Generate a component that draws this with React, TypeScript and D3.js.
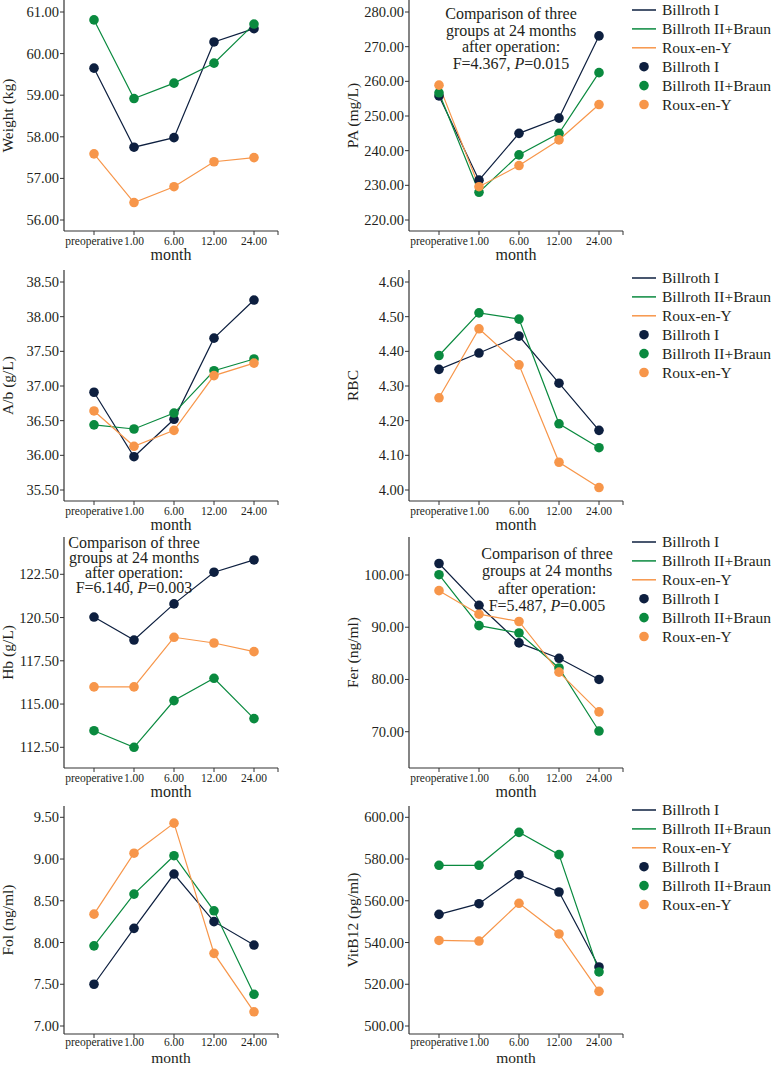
import React from 'react';
import * as d3 from 'd3';

const months = ['preoperative', '1.00', '6.00', '12.00', '24.00'];
const groups = ['Billroth I', 'Billroth II+Braun', 'Roux-en-Y'];
const colors = ['#0d1f3f', '#0a8a3f', '#f7964a'];

const weightBI = [59.65, 57.75, 57.98, 60.28, 60.6];
const weightBII = [60.81, 58.92, 59.29, 59.77, 60.71];
const weightRY = [57.59, 56.42, 56.8, 57.4, 57.5];
const weightTicks = [56, 57, 58, 59, 60, 61];

const paBI = [255.8, 231.5, 245.0, 249.4, 273.1];
const paBII = [256.7, 228.0, 238.8, 245.0, 262.5];
const paRY = [258.9, 229.6, 235.7, 243.1, 253.3];
const paTicks = [220, 230, 240, 250, 260, 270, 280];

const abBI = [36.91, 35.98, 36.52, 37.69, 38.24];
const abBII = [36.44, 36.38, 36.61, 37.22, 37.39];
const abRY = [36.64, 36.13, 36.36, 37.15, 37.33];
const abTicks = [35.5, 36, 36.5, 37, 37.5, 38, 38.5];

const rbcBI = [4.348, 4.395, 4.444, 4.308, 4.172];
const rbcBII = [4.388, 4.511, 4.493, 4.191, 4.122];
const rbcRY = [4.266, 4.465, 4.361, 4.08, 4.007];
const rbcTicks = [4.0, 4.1, 4.2, 4.3, 4.4, 4.5, 4.6];

const hbBI = [120.03, 118.7, 120.79, 122.62, 123.33];
const hbBII = [113.46, 112.5, 115.2, 116.49, 114.16];
const hbRY = [115.99, 115.99, 118.86, 118.53, 118.03];
const hbTicks = [112.5, 115, 117.5, 120, 122.5];
const hbTickLabels = ['112.50', '115.00', '117.50', '120.50', '122.50'];

const ferBI = [102.2, 94.2, 87.0, 84.05, 80.0];
const ferBII = [100.06, 90.3, 88.9, 82.2, 70.13];
const ferRY = [97.0, 92.5, 91.1, 81.4, 73.8];
const ferTicks = [70, 80, 90, 100];

const folBI = [7.5, 8.17, 8.82, 8.25, 7.97];
const folBII = [7.96, 8.58, 9.04, 8.38, 7.38];
const folRY = [8.34, 9.07, 9.43, 7.87, 7.17];
const folTicks = [7.0, 7.5, 8.0, 8.5, 9.0, 9.5];

const vitBI = [553.5, 558.6, 572.5, 564.2, 528.3];
const vitBII = [577.0, 577.0, 592.8, 582.1, 525.9];
const vitRY = [541.0, 540.7, 558.8, 544.1, 516.6];
const vitTicks = [500, 520, 540, 560, 580, 600];

const paNote = ['Comparison of three', 'groups at 24 months', 'after operation:', 'F=4.367, ', '0.015'];
const hbNote = ['Comparison of three', 'groups at 24 months', 'after operation:', 'F=6.140, ', '0.003'];
const ferNote = ['Comparison of three', 'groups at 24 months', 'after operation:', 'F=5.487, ', '0.005'];

const fmt = d3.format('.2f');
const FONT = '"Liberation Serif", "Times New Roman", "DejaVu Serif", serif';
const TEXT = '#231f20';
const AXIS = '#333';

type Panel = {
  title: string;
  series: number[][];
  ticks: number[];
  tickLabels?: string[];
  x0: number; top: number; bottom: number; yLo: number; yHi: number;
  tickDy: number; monthY: number; monthSize: number;
  legend?: number;
  note?: { lines: string[]; cx: number; y: number; dy: number };
};

const panels: Panel[] = [
  { title: 'Weight (kg)', series: [weightBI, weightBII, weightRY], ticks: weightTicks, x0: 64, top: 0, bottom: 231, yLo: 220, yHi: 12, tickDy: 14, monthY: 260, monthSize: 16 },
  { title: 'PA (mg/L)', series: [paBI, paBII, paRY], ticks: paTicks, x0: 409, top: 0, bottom: 231, yLo: 220, yHi: 12, tickDy: 14, monthY: 260, monthSize: 16, legend: 10,
    note: { lines: paNote, cx: 511, y: 19, dy: 16.5 } },
  { title: 'A/b (g/L)', series: [abBI, abBII, abRY], ticks: abTicks, x0: 64, top: 270, bottom: 501, yLo: 490, yHi: 282, tickDy: 14, monthY: 530, monthSize: 16 },
  { title: 'RBC', series: [rbcBI, rbcBII, rbcRY], ticks: rbcTicks, x0: 409, top: 270, bottom: 501, yLo: 490, yHi: 282, tickDy: 14, monthY: 530, monthSize: 16, legend: 278 },
  { title: 'Hb (g/L)', series: [hbBI, hbBII, hbRY], ticks: hbTicks, tickLabels: hbTickLabels, x0: 64, top: 537, bottom: 768, yLo: 747.3, yHi: 574.3, tickDy: 14, monthY: 797, monthSize: 16,
    note: { lines: hbNote, cx: 134, y: 548, dy: 15 } },
  { title: 'Fer (ng/ml)', series: [ferBI, ferBII, ferRY], ticks: ferTicks, x0: 409, top: 537, bottom: 768, yLo: 731.7, yHi: 575, tickDy: 14, monthY: 797, monthSize: 16, legend: 542,
    note: { lines: ferNote, cx: 547, y: 559, dy: 17.3 } },
  { title: 'Fol (ng/ml)', series: [folBI, folBII, folRY], ticks: folTicks, x0: 64, top: 806, bottom: 1034, yLo: 1026, yHi: 817.3, tickDy: 12, monthY: 1062.5, monthSize: 15.5 },
  { title: 'VitB12 (pg/ml)', series: [vitBI, vitBII, vitRY], ticks: vitTicks, x0: 409, top: 806, bottom: 1034, yLo: 1026, yHi: 817.3, tickDy: 12, monthY: 1062.5, monthSize: 15.5, legend: 810 },
];

function Chart({ p }: { p: Panel }) {
  const x = d3.scalePoint<string>().domain(months).range([p.x0 + 30, p.x0 + 190]);
  const y = d3.scaleLinear().domain([p.ticks[0], p.ticks[p.ticks.length - 1]]).range([p.yLo, p.yHi]);
  const xEnd = p.x0 + 214;
  const line = d3.line<number>().x((_, i) => x(months[i]) as number).y((d) => y(d));
  const midY = (p.top + p.bottom) / 2;
  return (
    <g>
      <line x1={p.x0} x2={p.x0} y1={p.top} y2={p.bottom} stroke={AXIS} strokeWidth={1.2} />
      <line x1={p.x0} x2={xEnd} y1={p.bottom} y2={p.bottom} stroke={AXIS} strokeWidth={1.2} />
      {p.ticks.map((t, i) => (
        <g key={'yt' + i}>
          <line x1={p.x0 - 4} x2={p.x0} y1={y(t)} y2={y(t)} stroke={AXIS} strokeWidth={1} />
          <text x={p.x0 - 5} y={y(t) + 5} textAnchor="end" fontSize={14.5} fill={TEXT} fontFamily={FONT}>
            {p.tickLabels ? p.tickLabels[i] : fmt(t)}
          </text>
        </g>
      ))}
      {months.map((m) => (
        <g key={'xt' + m}>
          <line x1={x(m)} x2={x(m)} y1={p.bottom} y2={p.bottom + 4} stroke={AXIS} strokeWidth={1} />
          <text x={x(m)} y={p.bottom + p.tickDy} textAnchor="middle" fontSize={11.5} fill={TEXT} fontFamily={FONT}>{m}</text>
        </g>
      ))}
      <line x1={xEnd} x2={xEnd} y1={p.bottom} y2={p.bottom + 4} stroke={AXIS} strokeWidth={1} />
      <text x={(p.x0 + xEnd) / 2} y={p.monthY} textAnchor="middle" fontSize={p.monthSize} fill={TEXT} fontFamily={FONT}>month</text>
      <text transform={`translate(${p.x0 - 51},${midY}) rotate(-90)`} textAnchor="middle" fontSize={15.5} fill={TEXT} fontFamily={FONT}>{p.title}</text>
      {p.series.map((s, gi) => (
        <path key={'l' + gi} d={line(s) as string} fill="none" stroke={colors[gi]} strokeWidth={1.2} />
      ))}
      {p.series.map((s, gi) =>
        s.map((v, i) => <circle key={'c' + gi + '-' + i} cx={x(months[i])} cy={y(v)} r={4.8} fill={colors[gi]} />)
      )}
      {p.note && (
        <text textAnchor="middle" fontSize={16} fill={TEXT} fontFamily={FONT}>
          {p.note.lines.slice(0, 3).map((l, i) => (
            <tspan key={i} x={p.note!.cx} y={p.note!.y + i * p.note!.dy}>{l}</tspan>
          ))}
          <tspan x={p.note.cx} y={p.note.y + 3 * p.note.dy}>
            {p.note.lines[3]}<tspan fontStyle="italic">P</tspan>={p.note.lines[4]}
          </tspan>
        </text>
      )}
      {p.legend !== undefined && (
        <g>
          {groups.map((g, gi) => {
            const cy = (p.legend as number) + gi * 18.9;
            return (
              <g key={'lg' + gi}>
                <line x1={632} x2={656} y1={cy} y2={cy} stroke={colors[gi]} strokeWidth={1.5} />
                <text x={662} y={cy + 5} fontSize={15.5} fill={TEXT} fontFamily={FONT}>{g}</text>
              </g>
            );
          })}
          {groups.map((g, gi) => {
            const cy = (p.legend as number) + (gi + 3) * 18.9;
            return (
              <g key={'ld' + gi}>
                <circle cx={644} cy={cy} r={4.8} fill={colors[gi]} />
                <text x={662} y={cy + 5} fontSize={15.5} fill={TEXT} fontFamily={FONT}>{g}</text>
              </g>
            );
          })}
        </g>
      )}
    </g>
  );
}

export default function App() {
  return (
    <div style={{ position: 'absolute', left: 0, top: 0 }}>
      <svg width={771} height={1066} style={{ display: 'block', background: '#fff' }}>
        {panels.map((p, i) => <Chart key={i} p={p} />)}
      </svg>
    </div>
  );
}
